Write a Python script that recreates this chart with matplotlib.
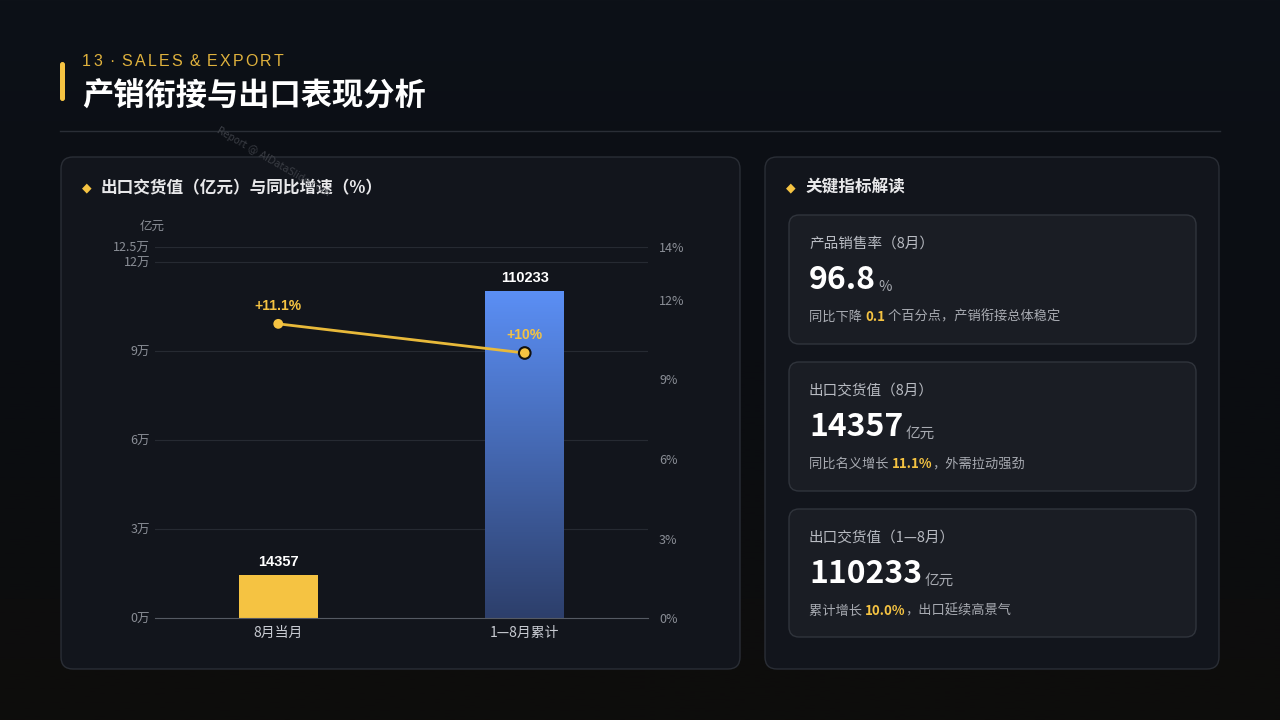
import matplotlib
matplotlib.use("Agg")
import matplotlib.pyplot as plt
import numpy as np
from matplotlib.patches import FancyBboxPatch, Rectangle
from matplotlib.colors import LinearSegmentedColormap

plt.rcParams['font.family'] = ['Noto Sans CJK SC', 'DejaVu Sans']

categories = ['8月当月', '1—8月累计']
values = [14357, 110233]
growth = [11.1, 10.0]
growth_labels = ['+11.1%', '+10%']
left_ticks = [0, 30000, 60000, 90000, 120000, 125000]
left_labels = ['0万', '3万', '6万', '9万', '12万', '12.5万']
right_ticks = [0, 3, 6, 9, 12, 14]
right_labels = ['0%', '3%', '6%', '9%', '12%', '14%']

W, H = 1280, 720
fig = plt.figure(figsize=(12.8, 7.2), dpi=100)
bg = fig.add_axes([0, 0, 1, 1])
bg.set_xlim(0, W); bg.set_ylim(H, 0); bg.axis('off')
grad = np.linspace(0, 1, 256).reshape(-1, 1)
cm = LinearSegmentedColormap.from_list('bg', ['#0d1118', '#0b0d12', '#0e0d0c'])
bg.imshow(grad, cmap=cm, extent=[0, W, H, 0], aspect='auto', zorder=0)
fig.canvas.draw()
r = fig.canvas.get_renderer()

def T(x, y, s, **kw):
    return bg.text(x, y, s, **kw)

bg.add_patch(FancyBboxPatch((60, 62), 5, 39, boxstyle='round,pad=0,rounding_size=2.5', fc='#f5c342', ec='none'))
x = 82
for ch in '13 · SALES & EXPORT':
    t = T(x, 61, ch, color='#e0b23d', fontsize=11.5, va='center', family=['Liberation Sans'])
    x += t.get_window_extent(r).width + 2.2 if ch != ' ' else 5
T(82, 97, '产销衔接与出口表现分析', color='white', fontsize=22.5, fontweight='bold', va='center')
bg.plot([60, 1220], [131, 131], color='#2a2e36', lw=1)

def panel(x0, y0, x1, y1, fc, ec, r=12):
    bg.add_patch(FancyBboxPatch((x0, y0), x1 - x0, y1 - y0, boxstyle=f'round,pad=0,rounding_size={r}', fc=fc, ec=ec, lw=1))

panel(61, 157, 740, 669, '#12151c', '#2a2e36')
panel(765, 157, 1219, 669, '#12151c', '#2a2e36')
T(82, 188, '◆', color='#f5c342', fontsize=9, va='center', family=['DejaVu Sans'])
T(101, 188, '出口交货值（亿元）与同比增速（%）', color='#e8e8ea', fontsize=12, fontweight='bold', va='center')
T(786, 188, '◆', color='#f5c342', fontsize=9, va='center', family=['DejaVu Sans'])
T(805, 188, '关键指标解读', color='#e8e8ea', fontsize=12, fontweight='bold', va='center')

cards = [
    (215, 344, '产品销售率（8月）', '96.8', '%', [('同比下降 ', '#a8abb2', 'normal'), ('0.1', '#f5c342', 'bold'), (' 个百分点，产销衔接总体稳定', '#a8abb2', 'normal')]),
    (362, 491, '出口交货值（8月）', '14357', '亿元', [('同比名义增长 ', '#a8abb2', 'normal'), ('11.1%', '#f5c342', 'bold'), ('，外需拉动强劲', '#a8abb2', 'normal')]),
    (509, 637, '出口交货值（1—8月）', '110233', '亿元', [('累计增长 ', '#a8abb2', 'normal'), ('10.0%', '#f5c342', 'bold'), ('，出口延续高景气', '#a8abb2', 'normal')]),
]
for y0, y1, lab, big, unit, parts in cards:
    panel(789, y0, 1196, y1, '#1a1d24', '#30343c', r=10)
    T(809, y0 + 29, lab, color='#b8bbc2', fontsize=10.5, va='center')
    t = T(809, y0 + 65, big, color='white', fontsize=23, fontweight='bold', va='center')
    bb = t.get_window_extent(r)
    T(809 + bb.width + 2, y0 + 72, unit, color='#a8abb2', fontsize=10.5, va='center')
    x = 809
    for s, c, w in parts:
        tt = T(x, y0 + 102, s, color=c, fontsize=9.5, fontweight=w, va='center')
        x += tt.get_window_extent(r).width

# chart
ax = fig.add_axes([155 / W, 1 - 618 / H, (648 - 155) / W, (618 - 247) / H])
ax.set_facecolor('none')
for s in ['top', 'right', 'left']:
    ax.spines[s].set_visible(False)
ax.spines['bottom'].set_color('#555a63')
ax.set_yticks(left_ticks); ax.set_yticklabels(left_labels)
ax.set_xticks([0, 1]); ax.set_xticklabels(categories)
ax.tick_params(axis='y', length=0, colors='#8a8e96', labelsize=9)
ax.tick_params(axis='x', length=0, colors='#c8cbd2', labelsize=10, pad=6)
for t in left_ticks:
    ax.axhline(t, color='#262a32', lw=0.8, zorder=0)
bw = 0.32
ax.add_patch(Rectangle((0 - bw / 2, 0), bw, values[0], fc='#f5c342', ec='none', zorder=2))
bar2 = Rectangle((1 - bw / 2, 0), bw, values[1], fc='none', ec='none')
ax.add_patch(bar2)
g = np.linspace(1, 0, 256).reshape(-1, 1)
cm2 = LinearSegmentedColormap.from_list('b', ['#2d3f6b', '#5b8ff5'])
im = ax.imshow(g, cmap=cm2, extent=[1 - bw / 2, 1 + bw / 2, 0, values[1]], aspect='auto', zorder=2, origin='upper')
im.set_clip_path(bar2)
ax.set_xlim(-0.5, 1.5); ax.set_ylim(0, 125000)
for i, v in enumerate(values):
    ax.text(i, v + 2000, f'{v}', ha='center', va='bottom', color='white', fontsize=10.5, fontweight='bold', family=['Liberation Sans'])

ax2 = ax.twinx()
ax2.set_ylim(0, 14)
for s in ax2.spines.values():
    s.set_visible(False)
ax2.set_yticks(right_ticks); ax2.set_yticklabels(right_labels)
ax2.tick_params(axis='y', length=0, colors='#8a8e96', labelsize=9, pad=8)
ax2.plot([0, 1], growth, color='#e8b93a', lw=2, zorder=3)
ax2.scatter([0, 1], growth, s=[50, 70], color='#f5c342', edgecolors=['#f5c342', '#111111'], linewidths=[0, 1.5], zorder=4)
for i, (gv, gl) in enumerate(zip(growth, growth_labels)):
    ax2.text(i, gv + 0.4, gl, ha='center', va='bottom', color='#f5c342', fontsize=10, fontweight='bold', family=['Liberation Sans'])
ax2.set_xlim(-0.5, 1.5)
fig.text(140 / W, 1 - 226 / H, '亿元', color='#8a8e96', fontsize=9, va='center')
fig.text(215 / W, 1 - 125 / H, 'Report @ AIDataSlide.com', color='#3a3d44', fontsize=7, rotation=-30, va='top', family=['DejaVu Sans'])

fig.savefig('out.png', dpi=100, facecolor='#0c0f15')
